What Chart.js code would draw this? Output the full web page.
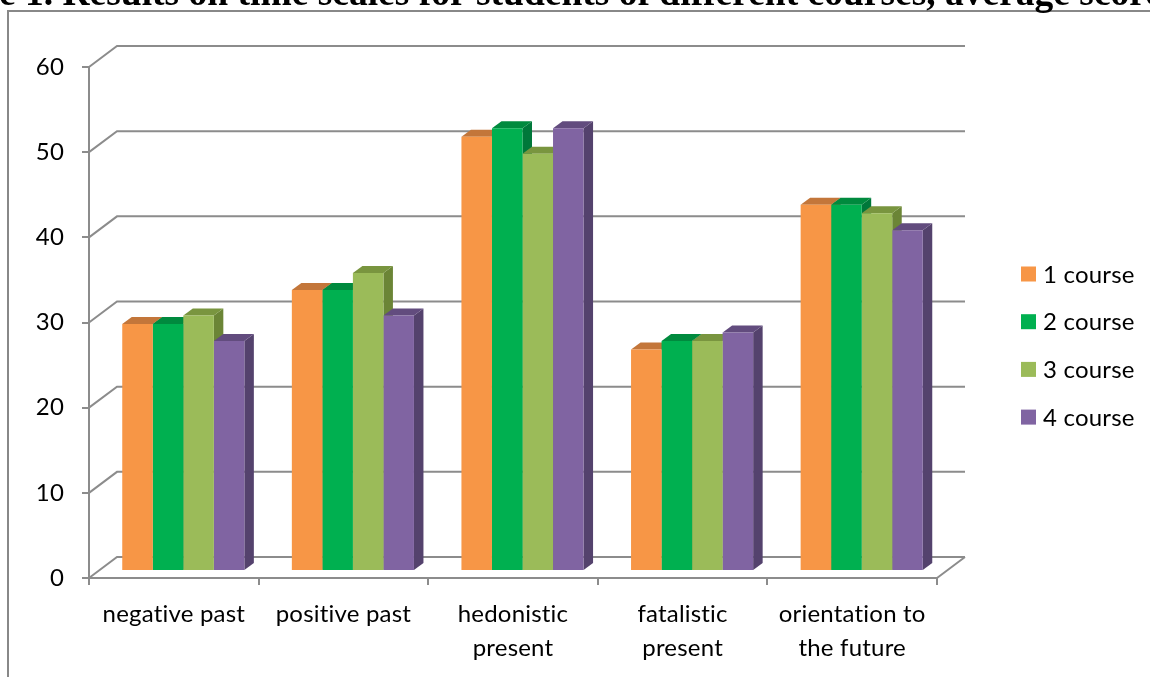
<!DOCTYPE html>
<html>
<head>
<meta charset="utf-8">
<script src="https://cdn.jsdelivr.net/npm/chart.js@4/dist/chart.umd.min.js"></script>
<style>
  html, body { margin: 0; padding: 0; background: #ffffff; }
  #wrap { position: relative; width: 1150px; height: 677px; }
</style>
</head>
<body>
<div id="wrap"><canvas id="chart"></canvas></div>
<script>
// Time-perspective scales, average score per study year
const categories = [
  'negative past',
  'positive past',
  ['hedonistic', 'present'],
  ['fatalistic', 'present'],
  ['orientation to', 'the future']
];
const seriesNames = ['1 course', '2 course', '3 course', '4 course'];
const course1 = [29, 33, 51, 26, 43];
const course2 = [29, 33, 52, 27, 43];
const course3 = [30, 35, 49, 27, 42];
const course4 = [27, 30, 52, 28, 40];
const yMin = 0, yMax = 60, yStep = 10;
const titleText = 'e 1. Results on time scales for students of different courses, average score';

// styling
const frontColors = ['#F79646', '#00B050', '#9BBB59', '#8064A2'];
const topColors   = ['#C3763A', '#008A3E', '#79953F', '#624C7E'];
const sideColors  = ['#B36A30', '#00783A', '#6B8536', '#54426D'];
const GRID = '#8c8c8c';
const FONT = 'Lato';
const WALL = { x: 28, y: -21 };      // depth of the back wall
const BAR  = { x: 9.5, y: -7 };      // bar depth / bar plane offset

const seriesValues = [course1, course2, course3, course4];

const threeD = {
  id: 'threeD',
  beforeDraw(chart) {
    // a touch of tracking keeps "ti" from turning into a ligature
    chart.ctx.letterSpacing = '0.2px';
  },
  beforeDatasetsDraw(chart) {
    const ctx = chart.ctx;
    const ys = chart.scales.y;
    const { left, right, bottom } = chart.chartArea;
    ctx.save();
    ctx.strokeStyle = GRID;
    ctx.lineWidth = 2;
    ctx.beginPath();
    ys.ticks.forEach(t => {
      const y = ys.getPixelForValue(t.value);
      ctx.moveTo(left, y);
      ctx.lineTo(left + WALL.x, y + WALL.y);
      ctx.lineTo(right + WALL.x, y + WALL.y);
    });
    ctx.moveTo(right, bottom);
    ctx.lineTo(right + WALL.x, bottom + WALL.y);
    ctx.stroke();
    ctx.restore();

    // bars stand in the middle of the floor depth
    ctx.save();
    ctx.translate(BAR.x, BAR.y);
    // side and top faces, series left to right; the library then paints the fronts
    for (let i = 0; i < chart.data.datasets.length; i++) {
      const meta = chart.getDatasetMeta(i);
      meta.data.forEach(el => {
        const p = el.getProps(['x', 'y', 'base', 'width'], true);
        const L = p.x - p.width / 2, R = p.x + p.width / 2;
        ctx.fillStyle = sideColors[i];
        ctx.beginPath();
        ctx.moveTo(R, p.y);
        ctx.lineTo(R + BAR.x, p.y + BAR.y);
        ctx.lineTo(R + BAR.x, p.base + BAR.y);
        ctx.lineTo(R, p.base);
        ctx.closePath();
        ctx.fill();
        ctx.fillStyle = topColors[i];
        ctx.beginPath();
        ctx.moveTo(L, p.y);
        ctx.lineTo(R, p.y);
        ctx.lineTo(R + BAR.x, p.y + BAR.y);
        ctx.lineTo(L + BAR.x, p.y + BAR.y);
        ctx.closePath();
        ctx.fill();
      });
    }
  },
  afterDatasetsDraw(chart) {
    chart.ctx.restore();
  },
  afterDraw(chart) {
    const ctx = chart.ctx;
    ctx.save();
    // outer frame
    ctx.strokeStyle = '#888888';
    ctx.lineWidth = 2;
    ctx.beginPath();
    ctx.moveTo(8, 677);
    ctx.lineTo(8, 11);
    ctx.lineTo(1150, 11);
    ctx.stroke();
    // title line
    ctx.fillStyle = '#000';
    ctx.letterSpacing = '0px';
    ctx.font = 'bold 37.5px "Liberation Serif"';
    ctx.textBaseline = 'alphabetic';
    ctx.textAlign = 'left';
    ctx.fillText(titleText, -1, 5);
    // legend
    ctx.letterSpacing = '0.2px';
    ctx.font = '24px ' + FONT;
    ctx.textBaseline = 'middle';
    chart.data.datasets.forEach((ds, i) => {
      const cy = 274 + i * 47.7;
      ctx.fillStyle = ds.backgroundColor;
      ctx.fillRect(1021, cy - 7.5, 15, 15);
      ctx.fillStyle = '#000';
      ctx.fillText(ds.label, 1043, cy + 1);
    });
    ctx.restore();
  }
};

new Chart(document.getElementById('chart'), {
  type: 'bar',
  data: {
    labels: categories,
    datasets: seriesNames.map((name, i) => ({
      label: name,
      data: seriesValues[i],
      backgroundColor: frontColors[i],
      borderWidth: 0,
      barPercentage: 1,
      categoryPercentage: 0.72
    }))
  },
  options: {
    responsive: true,
    maintainAspectRatio: false,
    animation: false,
    layout: { padding: { left: 0, top: 67, right: 213, bottom: 0 } },
    plugins: {
      legend: { display: false },
      tooltip: { enabled: false },
      title: { display: false }
    },
    scales: {
      x: {
        grid: { drawOnChartArea: false, drawTicks: true, tickLength: 7, color: GRID, lineWidth: 2, offset: true },
        border: { display: true, color: GRID, width: 2 },
        ticks: {
          color: '#000',
          padding: 12,
          maxRotation: 0,
          autoSkip: false,
          font: { family: FONT, size: 24, lineHeight: 1.42 }
        },
        afterFit(scale) { scale.height = 99; }
      },
      y: {
        min: yMin,
        max: yMax,
        grid: { drawOnChartArea: false, drawTicks: true, tickLength: 7, color: GRID, lineWidth: 2 },
        border: { display: true, color: GRID, width: 2 },
        ticks: {
          stepSize: yStep,
          color: '#000',
          padding: 18,
          font: { family: FONT, size: 24 }
        },
        afterFit(scale) { scale.width = 89; }
      }
    }
  },
  plugins: [threeD]
});
</script>
</body>
</html>
